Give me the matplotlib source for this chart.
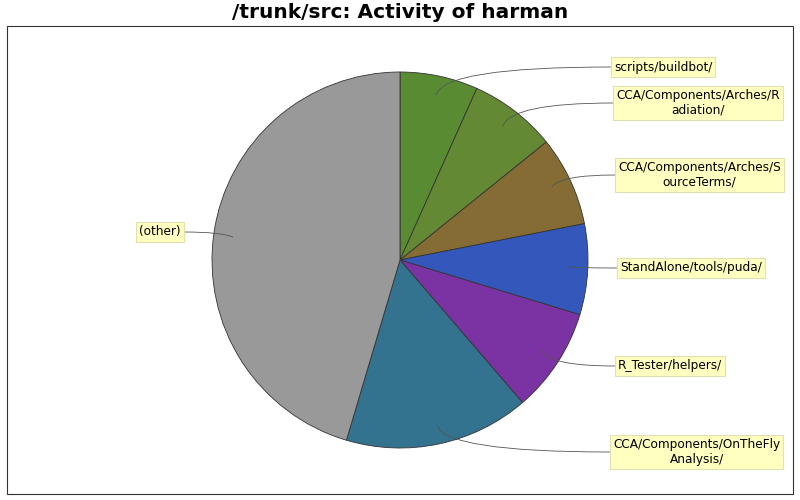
import matplotlib
matplotlib.use("Agg")
import matplotlib.pyplot as plt
from matplotlib.patches import Rectangle, PathPatch
from matplotlib.path import Path

labels = ["scripts/buildbot/", "CCA/Components/Arches/R\nadiation/",
          "CCA/Components/Arches/S\nourceTerms/", "StandAlone/tools/puda/",
          "R_Tester/helpers/", "CCA/Components/OnTheFly\nAnalysis/", "(other)"]
values = [6.7, 7.5, 7.7, 7.8, 9.0, 15.9, 45.4]
colors = ["#588b32", "#648935", "#846c34", "#3357bb", "#7b33a3", "#33738f", "#999999"]

# label anchor positions (pixel coords, y from top) and inner connector points
label_pos = [(611, 67), (613, 103), (615, 175), (617, 268), (615, 366), (610, 452), (184, 232)]
inner_pts = [(436, 95), (503, 126), (552, 187), (568, 267), (542, 351), (437, 425), (233, 237)]

W, H = 800, 500
fig = plt.figure(figsize=(8, 5), dpi=100)
ax = fig.add_axes([0, 0, 1, 1])
ax.set_xlim(0, W)
ax.set_ylim(0, H)
ax.axis("off")

# frame
ax.add_patch(Rectangle((7, H - 494), 786, 468, fill=False, edgecolor="#333333", lw=0.8))

ax.pie(values, colors=colors, startangle=90, counterclock=False,
       center=(400, H - 260), radius=188,
       wedgeprops=dict(edgecolor="#333333", linewidth=0.6))
ax.set_xlim(0, W)
ax.set_ylim(0, H)
ax.set_aspect("auto")

for lab, (lx, ly), (sx, sy) in zip(labels, label_pos, inner_pts):
    right = lx > 400
    y0 = H - sy
    y1 = H - ly
    cx = sx + (8 if right else -12)
    path = Path([(sx, y0), (cx, y1), (lx, y1)], [Path.MOVETO, Path.CURVE3, Path.CURVE3])
    ax.add_patch(PathPatch(path, fill=False, edgecolor="#555555", lw=0.6))
    ax.text(lx + (3 if right else -3), y1, lab, ha="left" if right else "right",
            va="center", multialignment="center", fontsize=8.7, color="black",
            linespacing=1.15,
            bbox=dict(boxstyle="square,pad=0.25", facecolor="#ffffc0", edgecolor="#e0e0b0", lw=0.8))

fig.text(0.5, 1 - 13 / H, "/trunk/src: Activity of harman", ha="center", va="center",
         fontsize=14.5, fontweight="bold")

fig.savefig("out.png", dpi=100)
